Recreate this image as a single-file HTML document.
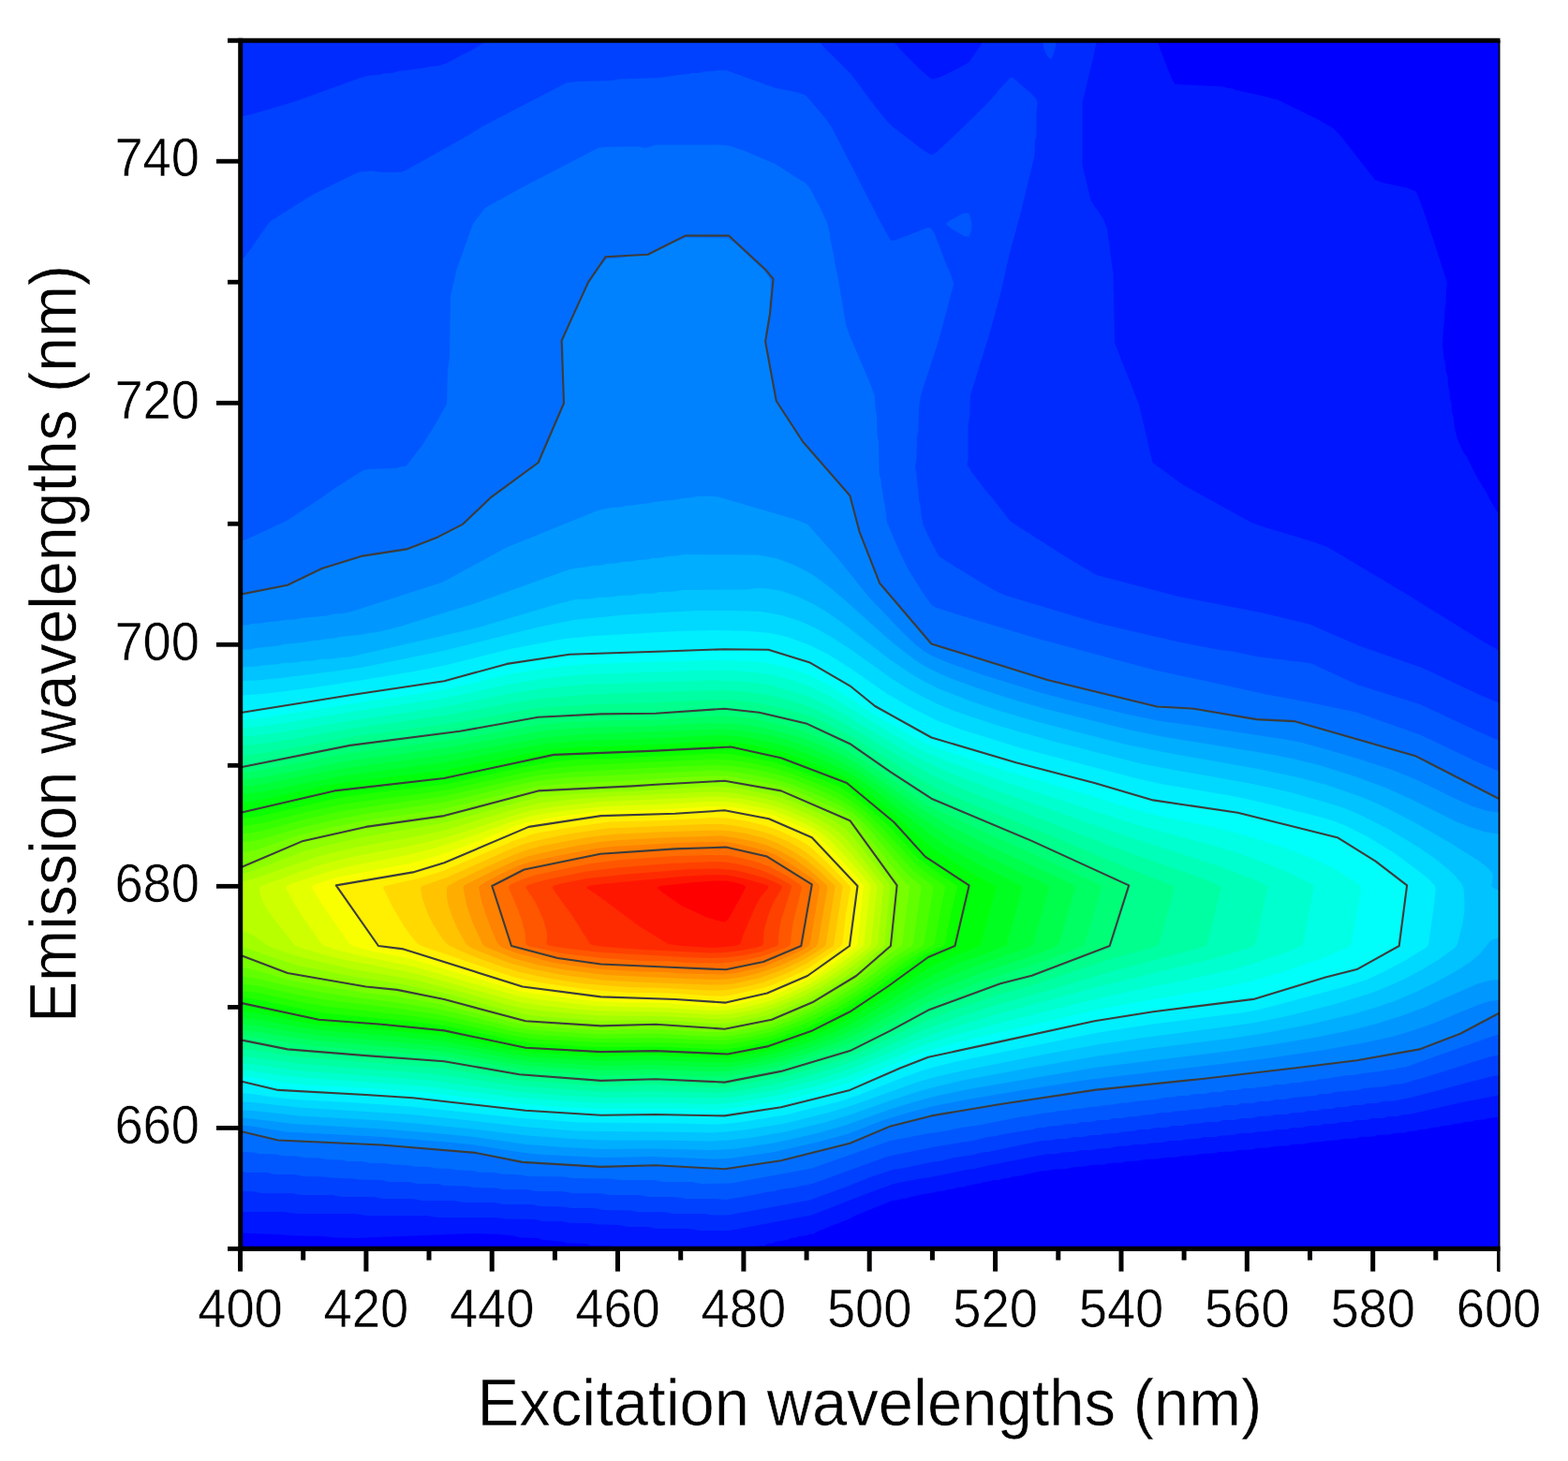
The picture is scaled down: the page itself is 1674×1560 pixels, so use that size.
<!DOCTYPE html>
<html><head><meta charset="utf-8"><title>Excitation-emission contour plot</title>
<style>
html,body{margin:0;padding:0;background:#fff;}
body{width:1674px;height:1560px;overflow:hidden;}
svg{display:block;}
text{font-family:"Liberation Sans",Arial,sans-serif;fill:#000;stroke:#fff;stroke-width:0.5px;}
</style></head><body>
<svg width="1674" height="1560" viewBox="0 0 1674 1560">
<defs><clipPath id="pc"><rect x="256" y="43" width="1345" height="1290"/></clipPath></defs>
<rect width="1674" height="1560" fill="#fff"/>
<rect x="256" y="43" width="1345" height="1290" fill="#0000ff"/>
<g clip-path="url(#pc)">
<path fill="#0016ff" d="M257,44l978.5,0 2.5,6 0.5,3 3,7 1,3.5 3,6.5 1,3.5 3,6.5 1,3 4,7 51.5,2.5 4,1.5 6,0.5 3,1.5 23,5 22,5.5 44,21.5 16,9.5 8,8.5 36,46 8,3 26,5.5 9,3.5 1.5,2 2.5,6 6.5,18 12,36 11.5,36 -1,8 -0.5,14 -1,6 -0.5,14 -1,6 -1,18 1.5,14 1.5,6 0.5,8 2,6 0.5,10 1.5,6 0.5,8.5 1.5,3.5 0.5,10.5 2,5.5 0.5,8 3,14 6.5,14.5 4,5.5 10,20 11,18 3,6.5 1.5,1.5 0.5,2 1.5,2 0.5,1.5 5.5,8.5 0.5,2 0,643 -10.5,1 -5.5,1.5 -8.5,0.5 -3.5,1.5 -8.5,0.5 -3.5,1.5 -8.5,0.5 -3.5,1.5 -8,0.5 -4,1.5 -8,0.5 -4,1.5 -8,0.5 -4,1.5 -8,0.5 -4,1.5 -12,0.5 -4,1.5 -14,0.5 -4,1.5 -14,0.5 -4,1.5 -14,0.5 -6,1.5 -12,0.5 -4,1 -14,1 -6,1.5 -12,0.5 -6,1.5 -14,0.5 -6,1.5 -12,0.5 -6,1.5 -14,0.5 -6,1.5 -14,0.5 -6,1.5 -14,0.5 -6,1.5 -13.5,0.5 -6,1.5 -14,0.5 -6,1.5 -15,0.5 -5,1.5 -14,0.5 -4,1.5 -15,0.5 -5,1.5 -14,0.5 -6,1.5 -14,1 -6,1.5 -14,0.5 -6,1.5 -8,0.5 -24,5.5 -6,0.5 -4,1.5 -6,0.5 -4,1.5 -6,0 -4,1.5 -6,0.5 -4,1.5 -5.5,0.5 -4.5,1.5 -4.5,0.5 -3.5,1.5 -7,0.5 -3,1.5 -7,0.5 -3,1.5 -7,0.5 -3,1 -17.5,3 -2.5,1 -7,1 -3,1.5 -7,0.5 -3,1.5 -6,0.5 -39.5,16 -6.5,3.5 -10,4 -12,4.5 -6,3 -4,1 -6,3.5 -5,0.5 -3,1.5 -8,0.5 -2,1.5 -6.5,0.5 -3.5,2 -12.5,2 -3.5,1.5 -5,0.5 -3,2 -6,0 -2,2 -152,0 -2,-0.5 -1.5,-1.5 -22.5,0 -2,-0.5 -1,-1.5 -23,-0.5 -2.5,-1.5 -25,-2.5 -2.5,-1.5 -19.5,-0.5 -6,-2 -16,-1.5 -28,-1 -126,5 -20,-0.5 -15.5,-1.5 -28.5,-0.5 -20.5,-1.5 -37.5,-1.5z"/>
<path fill="#002bff" d="M257,44l697,0 6.5,8 20,20.5 12,10.5 2,1.5 2,0 7.5,-2.5 17,-8 13.5,-7.5 14,-20.5 0.5,-2 121.5,0 -0.5,4 -4,18 -10.5,44 0,66 9,38 13.5,20 4,10 1,10 1.5,6 0.5,8 3.5,24 1.5,74 26,66 14.5,62 33,24 72.5,40 17.5,6 48.5,14.5 16,6 88,52.5 72.5,45 17,10 4.5,2 0,475.5 -44,8.5 -52,12 -6,0 -6,2 -10,0 -6,2 -10,0 -8,2 -10,0 -6,2 -10,0 -8,2 -10,0 -6,2 -10,0 -8,2 -10,0 -6,2 -12,0 -8,2 -12,0.5 -6,1.5 -12,0 -8,2 -12,0.5 -6,1.5 -12,0 -8,2 -12,0.5 -5.5,1.5 -12,0 -8,2 -12,0.5 -6,1.5 -12,0 -6,1.5 -12,0.5 -8,2 -12,0.5 -6,1.5 -12,0 -8,2 -12,0.5 -6,1.5 -12,0.5 -62,12 -14,3.5 -6,0.5 -44,9 -6,0.5 -30,6 -24,8.5 -64,25 -88,16.5 -32,0 -10,-2 -36,0 -8,-2 -22,0 -10,-2 -22,-0.5 -8,-1.5 -22,0 -8,-2 -21.5,0 -8,-2 -32,-0.5 -10,-1.5 -62,0 -12,-2 -64,0 -12,-2 -62,0 -14,-2 -46,0z"/>
<path fill="#0041ff" d="M517,46l2,-2 1,0 354.5,0 8.5,10 3.5,3 22,22 26,35 13,16 7,6.5 28,21.5 9,6 3,1 2,-0.5 4,-2.5 26,-24.5 26,-25.5 11,-12 1,-2 14,-15 2,-0.5 2,1.5 18,15.5 6,6.5 1,4 -1,10 0,24 -1.5,6 -0.5,16 -14.5,60 -12.5,46 -9,40 -12,44 -20.5,66 -1,24 -1.5,8 0,36 -1,6 6,9.5 14,18.5 7,8 17,22 4,4 56.5,36 33.5,20 88,23 87.5,17 52,12.5 54,23.5 66,23 62,29 20,8.5 0,398 -4,0 -16,4 -72,19 -20,4 -12,0.5 -6,2 -10,0 -6,2 -10,0 -6,2 -10,0 -6,2 -10,0 -6,2 -10,0 -6,2 -10,0 -6,2 -12,0 -6,1.5 -12,0.5 -8,2 -10,0 -8,2 -12,0 -6,2 -12,0 -6,1.5 -12,0.5 -7.5,2 -10,0 -8,2 -10,0 -8,2 -10,0 -8,2 -10,0.5 -6,1.5 -12,0.5 -6,1.5 -10,0 -8,2 -10,0 -8,2 -10,0 -6,1.5 -10,0.5 -58,12 -6,0.5 -14,3.5 -16,2 -16,4 -6,0.5 -36,7.5 -6,0.5 -24,8 -28,11 -38,14 -88,16 -16,0 -8,-1.5 -34,0 -10,-2 -28,0 -8,-1.5 -28,-0.5 -10,-2 -24,0 -8,-1.5 -25.5,-0.5 -10,-2 -30,0 -8,-2 -34,0 -10,-2 -34,0 -10,-2 -32,0 -10,-2 -34,0 -10,-2 -34,0 -10,-2 -32,0 -10,-2 -12,0 0,-1147.5 10,-2 46,-13.5 72,-26 10,-2.5 10,-0.5 4,-1.5 10,-0.5 6,-2 28,-3.5 6,-1.5 11,-1 3,-1.5 2.5,-0.5 8,-4 9.5,-5.5 2,-0.5 2,-1.5 2,-0.5 2,-1.5 2,-0.5 12,-7.5zM1113,44l14,0 0,6 -1.5,6 -3,7 -2,-0.5 -4,-5.5 -2,-5z"/>
<path fill="#0057ff" d="M761.5,76l5,-1 10,0.5 50,18 24,5 10,3.5 20,23.5 7.5,10.5 50.5,98.5 12,21.5 2,1 4.5,-1 33.5,-13 2,0 2,1.5 3.5,5.5 10.5,28 6,13.5 3.5,10.5 0,2 -16,60 -19,58 -2,14 -0.5,24 -1.5,6 -0.5,24 -1.5,8 1.5,8 1,12 1,6 0.5,10 1.5,6 1,10 2,10 7,15.5 10,18.5 18.5,12 40,24 11.5,5.5 100,30 86,20 41.5,8 18,2.5 26,5.5 10,1 6,1 12,1 6,1.5 10,0.5 12,2 50,23 66,20.5 62,29 22,9.5 0,336 -10,2 -66,21 -28,8 -10,0.5 -6,2 -24,2 -6,2 -24,2 -8,2 -8,0 -6,2 -24,2 -8,2 -10,0 -8,2 -10,0 -6,2 -12,0 -6,2 -12,0 -6,2 -12,0.5 -6,1.5 -12,0.5 -6,1.5 -11.5,0.5 -6,1.5 -10,0 -8,2 -10,0.5 -6,1.5 -10,0.5 -6,1.5 -10,0 -6,2 -10,0 -8,2 -10,0 -6,2 -10,0 -8,2 -10,0.5 -6,1.5 -6,0 -6,2 -28,4.5 -14,3 -6,0.5 -16,4 -38,6 -52,10.5 -80,29 -8,2 -6,0.5 -6,2 -16,2 -6,2 -6,0.5 -14,3 -32,5.5 -10,-1 -32,0 -10,-2 -30,0 -10,-2 -32,0 -10,-2 -30,0 -10,-2 -29.5,0 -8,-2 -26,0 -8,-1.5 -24,-0.5 -6,-1.5 -24,-0.5 -8,-2 -22,0 -8,-2 -22,0 -8,-2 -24,-0.5 -6,-1 -24,-1 -6,-1 -24,-0.5 -8,-2 -22,0 -8,-2 -22,0 -6,-1.5 0,-971 12,-15.5 18,-26 2,-2 44.5,-28 44.5,-22 7,-2.5 12,-1 10,1.5 14,0 8,-0.5 4,-1.5 66,-37 16,-10 89.5,-46.5 12,-1.5 38,-1 6,-1.5 44,-1.5 20,-3 10,-1 4,-1 8,0 4,-1.5zM1028,228l4.5,-0.5 2,0.5 2.5,8 0.5,4 -0.5,6 -2.5,6.5 -4,0 -6,-3 -9,-5.5 -5,-4 0,-2 2,-2z"/>
<path fill="#006dff" d="M696,156l4.5,-1.5 12,0 54,0 12,1 16,5.5 32,13.5 34,21.5 4,5 12,22.5 6.5,14.5 3,12 0.5,6 3.5,16 1,8 3.5,16 8.5,50 4,12 21.5,50.5 5,13.5 1,14 1.5,8 0.5,20 1.5,8 0.5,34 2,6 0.5,8 1,4 1,8 1.5,6 2.5,20 12,28 9.5,20 16,26 10,14 4,2.5 20,6.5 88,26.5 126,34 51.5,11 68,15 46,8.5 50,10.5 68,24 62,29.5 18.5,8 3.5,1 0,281.5 -8,2.5 -92,32.5 -6,0.5 -6,2 -8,0.5 -4,1 -24,3 -6,1.5 -8,0 -20,3.5 -10,1 -6,1.5 -8,0.5 -6,1.5 -8,0 -8,2 -10,0 -8,2 -10,0.5 -6,1.5 -10,0 -8,2 -10,0 -6,2 -10,0 -8,2 -10,0 -8,2 -9.5,0 -6,1.5 -10,0.5 -8,2 -24,2 -6,1.5 -10,0.5 -6,1.5 -10,0.5 -6,1.5 -10,0.5 -6,1.5 -10,0.5 -6,1.5 -10,0.5 -6,1.5 -10,1 -16,3 -6,0.5 -48,9.5 -18,2.5 -28,5.5 -6,0.5 -42,8 -84,29.5 -86,16 -32,0.5 -10,-2 -30,0 -10,-2 -36,0 -12,-1.5 -40,-0.5 -8,-1.5 -39.5,-0.5 -6,-1.5 -22,-1 -6,-1.5 -18,-0.5 -6,-1.5 -16,-0.5 -8,-1.5 -16,-0.5 -6,-1.5 -18,-0.5 -6,-1.5 -16,-0.5 -8,-1.5 -16,0 -8,-2 -16,0 -6,-1.5 -16,-0.5 -8,-1.5 -16,-0.5 -8,-1.5 -16,-0.5 -6,-1.5 -18,-0.5 -6,-1.5 -14,-0.5 0,-652.5 6,-1.5 43,-20 36.5,-24 12.5,-9 32,-20.5 6,-1.5 30,-1 4,-1.5 6,-0.5 2,-2 16,-21 12,-19 14,-24.5 1,-37.5 2,-12 1,-66 6.5,-28 17,-48 2.5,-4 11,-14 35,-19.5 85.5,-44.5 8,-1 26,-0.5 10,0 6,1.5z"/>
<path fill="#0082ff" d="M732,254l44.5,0.5 8.5,5.5 23.5,22.5 4.5,3.5 3.5,4 4.5,6 1.5,4.5 0,15.5 -1,4 -0.5,16 -3.5,18 -0.5,12 10,54 3,10 28,42 40.5,47.5 8,10.5 5.5,16 5,20 14,36 9,20 4.5,6.5 34,40 12,13.5 4.5,4 3.5,2 14,4.5 104,32.5 116,28 8,0.5 8,1.5 25.5,1 64,11.5 18,0.5 8,1.5 18,0.5 8,2.5 120,34.5 24,11.5 54,27.5 8.5,4 3.5,1 0,232.5 -12,5 -34,17 -26,10 -18,6 -40,6.5 -6,1.5 -6,0.5 -6,1.5 -8,1 -6,1 -10,1 -6,1.5 -10,0.5 -6,1.5 -10,0.5 -6,1.5 -10,0.5 -6,1.5 -10,0.5 -8,1.5 -10,0.5 -6,1.5 -12,0.5 -6,1.5 -10,0.5 -6,1 -10,1 -8,1.5 -10,0.5 -8,1.5 -11.5,0.5 -8,1.5 -12,0.5 -6,1.5 -12,0.5 -8,1.5 -12,0.5 -6,1.5 -14,0.5 -6,1.5 -10,0.5 -6,1.5 -8,0.5 -4,1.5 -22,2.5 -6,1.5 -8,0.5 -4,1.5 -22,2.5 -6,1.5 -8,0.5 -72,12.5 -48,12 -46,18.5 -30,8 -42,10.5 -8,0.5 -6,1.5 -22,2.5 -4,1.5 -8,0.5 -6,1.5 -22,0 -8,-1.5 -30,-0.5 -8,-1.5 -6,0 -26,0 -12,1.5 -36,0 -10,-1.5 -22,-0.5 -9.5,-1.5 -26,-0.5 -58,-11 -16,-0.5 -8,-1.5 -16,-1 -6,-1 -18,-1 -6,-1 -18,-1 -8,-1.5 -30,0 -10,-2 -34,-0.5 -10,-1.5 -28,-0.5 -40,-9 0,-575.5 6,-0.5 40,-8 17.5,-7 24.5,-11.5 40,-12.5 22,-4 8,-0.5 6,-1.5 8,-1 8,-2.5 31.5,-12.5 20,-10 6.5,-4 28,-26.5 40,-29.5 12,-10 19.5,-44 7.5,-20 -1,-10 0.5,-44 -0.5,-10 13.5,-32 14,-29 12,-18 6,-7 2,-1.5 16,-1 6,-2 20,-1 31,-14.5z"/>
<path fill="#0098ff" d="M744,530l16.5,0 6,0.5 82,24 14,5.5 5,6 25,28 35.5,44 34.5,36 14.5,14 9.5,7.5 10,5.5 14,6 40,14 58,18 30,8 64,15.5 36,7.5 37.5,5 96,14.5 16,3 22,6 38,11 38,12.5 26,10.5 42,20.5 18,8 16,5 12,1.5 0,200.5 -10,1 -12,4 -46,19 -24,8.5 -22,6.5 -30,6.5 -42,7.5 -64,9.5 -189.5,22.5 -66,10.5 -62,10.5 -38,7.5 -30,8 -20,6 -40,15.5 -34,9 -44,10 -48,7 -18,0.5 -64,-2.5 -56,1 -67.5,-3.5 -16,-2 -50,-8 -24,-2.5 -74,-6 -104,-5.5 -36,-6 -12,-1 0,-534 6,0 6,-1.5 10,-0.5 8,-1.5 10,-0.5 6,-1.5 12,-0.5 6,-1.5 28,-2.5 8,-2 10,-0.5 10,-2.5 96,-31 68,-37 97.5,-39.5 14,-3 10,-0.5 6,-1.5 8,-0.5 8,-1.5 8,-0.5 6,-1.5 24,-2.5 6,-1.5 8,-0.5z"/>
<path fill="#00aeff" d="M731,592l77.5,0.5 20,3.5 20,7.5 18,9.5 18,13 16,13.5 52,46.5 24,18.5 12,7.5 14,7 18,7.5 24,8.5 34,11 36,10.5 90,22.5 36,7.5 119.5,19.5 24,5 26,6.5 38,12 33.5,12.5 26.5,12 46,23 16,6.5 16,5 14,2 0,155.5 -10,1 -14,4 -54,24 -28,10.5 -26,8 -28,7 -40,8 -46,7.5 -40,6 -145.5,18 -68,11.5 -66,11.5 -34,7 -26,7 -26,8 -46,16.5 -30,8.5 -44,10 -42,6.5 -16,1 -14,0.5 -58,-1.5 -56,0.5 -40,-2 -39.5,-3 -56,-8 -48,-4.5 -50,-4 -96,-5.5 -44,-5.5 -12,-1 0,-500 10,0 6,-1.5 24,-2.5 6,-1.5 24,-2.5 6,-1.5 8,-0.5 6,-1 10,-1 6,-1.5 24,-2.5 6,-1.5 10,-1 22,-5.5 80,-24.5 101.5,-36.5 10,-2 10,-1 6,-1.5 10,-0.5 6,-1.5 10,-0.5 6,-1.5 10,-0.5 6,-1.5 10,-0.5 6,-1.5 10,-0.5 6,-1.5 10,-0.5z"/>
<path fill="#00c3ff" d="M807.5,628l13,0.5 14,2.5 16,5.5 16,7.5 14,8 16,11 54,41.5 23,15.5 13,7.5 16,8 36,14 32,10.5 38,11 94,24 42,8.5 101.5,18 46,10 24,6.5 22,7.5 22,8 20,9 32,16.5 39.5,23 28.5,18 7.5,6 4,4 1.5,2 1,4 -1.5,10 3.5,3 4,1.5 0,51 -6,1.5 -4,3 -9.5,12 -10.5,9 -14,9 -21.5,12 -22.5,11 -22,9.5 -22,7.5 -24,7 -46.5,11 -49.5,9.5 -32,5 -95.5,12 -48,7 -66,11.5 -76,14 -28,6.5 -24,6.5 -26,8.5 -44,15.5 -28,8.5 -42,10 -38,6.5 -22,2.5 -20,1 -58,-1 -56,0 -34,-1.5 -47.5,-3.5 -64,-7.5 -56,-5.5 -36,-3 -88,-5 -48,-5.5 -14,-0.5 0,-472.5 4,-1 14,-0.5 8,-1.5 12,-0.5 6,-1.5 14,-0.5 8,-1.5 12,-0.5 6,-1.5 14,-0.5 8,-1.5 10,-0.5 134,-30.5 89.5,-26.5 18,-4.5 16,-0.5 8,-1.5 14,-0.5 8,-1.5 16,-0.5 6,-1.5 16,-0.5 6,-1.5 16,-0.5 8,-1.5 68,-0.5z"/>
<path fill="#00d9ff" d="M743,652l41.5,0 28,1 20,3.5 20,6 18,8 20,11.5 20,13 42,30 14.5,9 15.5,8.5 18,9 18,7.5 46,15.5 60,17 94,24 34,6.5 79.5,14 44,9.5 42,12 16,5 16,6.5 32,16 34.5,21 14.5,10 12.5,10 9,8 7.5,9 2.5,5 1,14 0,10 -2,14 -5.5,22 -1,2 -3,3 -16,11.5 -18,11 -20,10.5 -18,8 -18,7 -38,11.5 -48,12 -34,7 -30,4.5 -91.5,12 -44,6.5 -60,11 -90,18 -26,6 -20,5.5 -68,24.5 -28,8.5 -46,11.5 -44,7 -20,2 -16,1 -52,-1 -64,-0.5 -28,-0.5 -55.5,-4.5 -66,-7.5 -54,-5.5 -120,-7.5 -50,-5.5 -12,-0.5 0,-449.5 18,-0.5 20,-2 64,-8 28,-4 84,-17 104,-26 37.5,-7.5 54,-5.5z"/>
<path fill="#00efff" d="M722.5,674l40,-1 38,1 22,2 18,4 24,9 20,10 24,15 38,26.5 28,16 26,13 24,9 68,21 124,32.5 28,6 71.5,12 28,6 60,15 18,5 14,5.5 25,12.5 27,16.5 26.5,19.5 12,10 5.5,6 0.5,4 -2,20 -5.5,38 -1,2 -2,2 -22,13.5 -23.5,12.5 -18.5,8.5 -24,7.5 -78,21 -14,3.5 -14,2.5 -97.5,12.5 -58,9 -150,30.5 -22,5.5 -16,4.5 -22,8 -48,19 -20,6.5 -56,14 -50,8 -16,1.5 -12,0.5 -32,-1 -110,-1 -61.5,-4.5 -118,-12.5 -58,-4 -64,-3.5 -22,-2 -26,-4 -12,-1 0,-424.5 24,-1.5 48,-6 56,-8.5 54,-9 36,-7 70,-17.5 57.5,-11 32,-3z"/>
<path fill="#00fffa" d="M725.5,694l93,0 18,4.5 26,8 4,2 28,15.5 9,6 31.5,24 58,32 13.5,5 76,22.5 82,21 64,19 10,2 33.5,4.5 6,2 8,0.5 6,1.5 8,0.5 4,1 10,1 10,2 80,20 24,7 8.5,4.5 37.5,24 22,16.5 6,5.5 -0.5,4 -1.5,6 -0.5,10 -1.5,6 -0.5,10 -1.5,4 -0.5,12 -2,10 -1,2 -2.5,2 -42,22.5 -44,12 -68,20.5 -12,1 -6,1.5 -10,0.5 -6,1.5 -10,0.5 -6,1.5 -10,0.5 -6,1.5 -9.5,0.5 -6,1.5 -10,0.5 -6,1.5 -8,0.5 -6,1.5 -8,0.5 -6,2 -6,0 -6,2 -8,0.5 -16,3.5 -6,0.5 -148,32 -28,6 -12,4.5 -20,8 -52,22.5 -8,2.5 -64,16 -10,2 -8,0.5 -6,1.5 -8,0.5 -4,1.5 -8,0.5 -6,1.5 -8,0.5 -6,1.5 -16,0 -8,-1.5 -6,0 -120,-0.5 -6,0 -6,-1.5 -23.5,-0.5 -8,-1.5 -20,-0.5 -8,-1.5 -10,-0.5 -8,-1.5 -10,-0.5 -8,-1.5 -10,-0.5 -8,-1.5 -10,-0.5 -8,-1.5 -10,-0.5 -6,-1.5 -12,-0.5 -8,-1.5 -18,-0.5 -8,-1.5 -22,-0.5 -8,-1.5 -28,-0.5 -8,-1.5 -30,-0.5 -8,-1.5 -16,-0.5 -40,-8.5 0,-396 8,0 14,-2 18,-3.5 8,-1 16,-3 20,-2.5 6,-1.5 32,-4.5 6,-1.5 8,-0.5 6,-1.5 8,-0.5 4,-1.5 22,-2.5 6,-1.5 8,-0.5 6,-1.5 20,-2.5 70,-19 8,-1 6,-1.5 22,-2.5 4,-1.5 8,-0.5 17.5,-3.5 48,-0.5 12,-1.5 48,-0.5z"/>
<path fill="#00ffe4" d="M723.5,706l37,-1 42,1 20,2.5 22,5.5 18,6.5 22,11 16,9.5 28,19 18,10.5 40,22.5 20,8 70,23 82,24 52,16 26,7 59.5,12.5 28,7 42,13 34,12.5 26,12.5 20,12.5 6.5,5 0.5,4 -10.5,58 -1,2 -3,2 -24,10 -44.5,15.5 -34,10 -34,7.5 -79.5,13.5 -44,8 -152,35.5 -40,11 -24,9.5 -52,22 -12,4 -30,8.5 -32,8 -54,8.5 -18,1.5 -28,-1 -98,0 -45.5,-2.5 -32,-2.5 -116,-13.5 -58,-4 -60,-3 -24,-2.5 -36,-6 -10,-1 0,-380.5 12,-0.5 14,-2 102,-16 80,-12 18,-3.5 62,-15 46,-7 31.5,-3z"/>
<path fill="#00ffce" d="M747,716l33.5,0 26,2 22,3.5 22,6.5 16,6 18,8.5 16,9.5 40,24.5 30,17.5 20,10.5 22,9 56,20 138,45 28,8 57.5,15.5 28,8.5 28,10 26,10.5 25.5,13 2.5,2 0.5,2 -11.5,60 -1.5,2 -4,2 -17.5,6.5 -28,9.5 -24,7 -34,8 -71.5,14.5 -38,8.5 -108,27 -52,14 -34,11.5 -70,29.5 -36,11 -42,10.5 -48,8 -20,1.5 -58,-1.5 -60,0.5 -50,-3 -45.5,-3.5 -98,-12 -128,-9 -24,-2.5 -30,-4.5 -12,-1 0,-365.5 14,-0.5 20,-2.5 88,-14.5 86,-12.5 22,-4 58,-12.5 40,-6.5 43.5,-4z"/>
<path fill="#00ffb8" d="M713.5,728l47,-1.5 34,1.5 16,1.5 14,2.5 28,8 18,7 18,8.5 86,51 20,10 20,9 42,16 142,50 103.5,33.5 22,8.5 20,8 8.5,4.5 0.5,2 -12.5,60 -2,2 -4.5,2 -38,11.5 -119.5,29 -112,30.5 -44,13 -38,13 -72,31.5 -34,11 -46,12 -50,8 -18,1 -62,-1 -54,0.5 -48,-2.5 -47.5,-4 -92,-12 -136,-10 -20,-2.5 -32,-4.5 -14,-1 0,-349 16,-1 18,-2 84,-14 92,-13.5 24,-4.5 54,-11 32,-5 23.5,-2.5 26,-2z"/>
<path fill="#00ffa3" d="M732,738l38.5,-1 30,2 16,2.5 14,3 30,8.5 18,8 24,12 72,43.5 20,11 18,8.5 28,11.5 158,60.5 75.5,26.5 25,9.5 3.5,2 1,2 -14.5,60 -2,2 -11,3.5 -93.5,25 -70,21 -50,14 -42,13.5 -34,12.5 -72,32.5 -26,9 -28,8.5 -26,6.5 -32,6.5 -24,3.5 -16,1 -66,-2 -52,1 -38,-2.5 -53.5,-4 -88,-12.5 -144,-11 -50,-7 -14,-1 0,-332 16,-1 20,-2.5 82,-14.5 106,-15 66,-12.5 28,-4.5 23.5,-2 34,-2.5z"/>
<path fill="#00ff8d" d="M744,748l30.5,-0.5 18,1 16,2 30,6.5 28,8 14,6.5 30,15.5 62,39.5 32,18 22,9.5 85,34 93,39 48.5,19 1,2 -0.5,2 -16,58 -2.5,2 -5.5,2 -47,13 -72,24.5 -44,12.5 -54,18.5 -26,10.5 -72,34.5 -18,6.5 -30,9.5 -30,8 -60,11.5 -12,0.5 -64,-3 -18,0 -18,1.5 -26,-0.5 -57.5,-4 -28,-2 -86,-13.5 -150,-11.5 -48,-7.5 -12,-1 0,-313.5 12,-1 16,-2 96,-17.5 106,-14.5 58,-10.5 26,-4.5 23.5,-2 40,-2.5 62,-1.5z"/>
<path fill="#00ff77" d="M743,758l23.5,-0.5 6,-1 6,1 12,0.5 8,1.5 10,0.5 36,8 18,5 46,22 86,57.5 100,42 107.5,49.5 2.5,2 0,4 -18.5,58 -3.5,3 -6,2.5 -56,21 -16,6.5 -38,10 -70,25.5 -16,7.5 -20,11.5 -52,26 -72,22 -64,12.5 -8,0 -10,-2 -34,0 -6,-1.5 -6,-0.5 -30,0.5 -12,1.5 -32,0 -8,-1.5 -20,-0.5 -6,-1.5 -17.5,-0.5 -8,-1.5 -18,-0.5 -88,-15.5 -22,-0.5 -6,-1.5 -20,-0.5 -8,-1.5 -20,-0.5 -8,-1.5 -18,-0.5 -6,-1.5 -18,-0.5 -8,-1.5 -16,-0.5 -8,-2 -8,0 -46,-9.5 0,-292 28,-5 86,-17.5 8,-0.5 6,-1.5 8,-0.5 6,-1.5 10,-0.5 6,-1.5 8,-0.5 8,-1.5 10,-0.5 6,-1.5 8,-0.5 6,-1 10,-1 6,-1.5 10,-0.5 84,-15.5 16,-0.5 7.5,-1.5 32,-0.5 8,-1.5 70,-0.5 10,-1.5 22,-0.5z"/>
<path fill="#00ff62" d="M739.5,766l33,-1.5 14,1 18,2 36,8 22,7 26,11 18,9.5 23.5,15 58.5,40 10,5.5 36,17.5 78,35 60,28 3,2 0.5,2 -18,60 -1.5,2 -4.5,2 -45.5,17 -52,16.5 -56,21.5 -18,8.5 -29,16.5 -25,13 -26,12 -66,21 -30,6.5 -32,5 -44,-0.5 -28,-2 -60,1.5 -79.5,-6 -90,-15 -100,-7.5 -48,-4.5 -66,-10.5 0,-279.5 22,-3 92,-18 118,-15.5 86,-15 23.5,-2.5 40,-2 64,-1z"/>
<path fill="#00ff4c" d="M752.5,772l30,0.5 30,4 36,9 14,4.5 18,7.5 20,9.5 16,9.5 70,49 26,15.5 44,22.5 88,40.5 3,2 0.5,2 -0.5,2 -17,58 -2,2 -4,2 -28,10.5 -50,16.5 -44,17.5 -24,12 -56,31.5 -14,7 -14,6 -34,12 -28,8.5 -28,6 -28,4.5 -12,0.5 -68,-2.5 -56,1 -75.5,-5 -20,-2.5 -74,-13 -128,-11 -30,-3.5 -42,-7 -14,-1.5 0,-267 12,-1 14,-2 86,-16.5 110,-15 100,-17.5 21.5,-2 36,-2 64,-1.5z"/>
<path fill="#00ff36" d="M728.5,780l42,-1.5 14,1 16,2 20,3.5 20,5 16,5.5 20,8 24,11 18,10.5 21,15 49,36.5 28,18.5 40,21 60,28 3,2 0.5,2 -17,60 -2,2 -4,2 -58.5,20.5 -36,15 -24,12.5 -58,34 -15.5,8 -14.5,6.5 -31.5,11.5 -30.5,9.5 -24,5.5 -26,4 -14,0.5 -70,-2.5 -54,1 -73.5,-4.5 -20,-3 -56,-10.5 -20,-3 -130,-11.5 -24,-3 -44,-7.5 -16,-1.5 0,-253.5 12,-1 14,-2 64,-13 24,-4 108,-14.5 102,-18 41.5,-3.5z"/>
<path fill="#00ff21" d="M742.5,786l20,-1 18,0.5 14,1.5 20,4 20,4.5 14,4.5 20,7.5 24,10.5 14,7 14.5,9 23.5,18 46,37 18,13 36,21 46.5,23 0.5,2 -0.5,2 -16,58 -1.5,2 -4.5,2 -42.5,15.5 -28,12.5 -20,11 -60,37 -16,8.5 -16,7.5 -30,11.5 -32,10 -24,5.5 -22,3.5 -12,0 -70,-2.5 -54,1 -75.5,-4.5 -20,-2.5 -54,-10.5 -22,-4 -56,-5.5 -72,-6 -22,-3 -46,-8.5 -18,-1.5 0,-239 12,-1 14,-2 82,-16.5 110,-14.5 88,-16.5 22,-3.5 35.5,-3 78,-2.5z"/>
<path fill="#00ff0b" d="M752,792l18.5,-0.5 16,1 18,3 30,7 20,7 42,17 10,5 8,5 41.5,33.5 28.5,26.5 14,11 14,9.5 22,13.5 28,15.5 0.5,2 0,2 -15.5,58 -2,2 -4,2 -29,11.5 -18,8.5 -14,8.5 -29,19.5 -35,22 -14,8 -18,9 -28,11 -34,11.5 -22,4.5 -24,4 -50,-1.5 -24,-1.5 -42,0.5 -18,1 -75.5,-4.5 -24,-3.5 -42,-9 -30,-5.5 -58,-6 -68,-5 -22,-3.5 -50,-10 -16,-1.5 0,-223.5 10,-0.5 16,-3 74,-16 116,-14.5 114,-22.5 33.5,-2.5 80,-2.5z"/>
<path fill="#0bff00" d="M721.5,800l23,0 10,-2 18,0 10,0 12,2.5 38,8 62,24 6,2 5.5,3.5 25,20 23.5,20 33.5,36 44.5,29.5 2.5,2.5 0,2 -4,14 -10.5,46 -1,2 -3,2 -27.5,12 -28.5,20 -7.5,6 -38.5,26 -12,7 -24,12 -14,6.5 -46,16 -42,8 -8,0 -8,-1.5 -36,0 -10,-2 -62,0 -10,1.5 -8,-1.5 -28,0 -8,-1.5 -29.5,-0.5 -24,-4.5 -70,-15 -12,-0.5 -6,-2 -12,0 -8,-2 -14,-0.5 -6,-1.5 -16,-0.5 -6,-1.5 -20,-0.5 -8,-1.5 -20,-0.5 -4,-1 -8,-1 -62,-13.5 -16,-2.5 0,-204 100,-23 10,-1 6,-1.5 10,-0.5 6,-1.5 12,-0.5 6,-1.5 12,-0.5 6,-1.5 10,-0.5 8,-1.5 10,-0.5 8,-1.5 12,-0.5 116,-25 21.5,-1 8,-1.5 42,-0.5 10,-1.5 36,0 8,-2z"/>
<path fill="#21ff00" d="M732.5,806l30,-1.5 16,0.5 22,3.5 26,5.5 20,6.5 36,14 16,7 8,5 20,15.5 24,21.5 27.5,30.5 6.5,6 37,26 0.5,2 -6.5,26 -6.5,34 -1.5,2 -17,7.5 -8,4.5 -14,9.5 -31,22.5 -25,16.5 -16,9.5 -26,13 -8,4 -28,10 -16,5 -22,5 -22,3.5 -44,-1.5 -20,-1.5 -68,0.5 -26,-1 -18,-1.5 -27.5,-1 -24,-4 -70,-15 -38,-5 -90,-8.5 -16,-2.5 -58,-12 -18,-3 0,-190 20,-3 82,-19 32,-5 84,-10 86,-19 28,-5 33.5,-3 36,-0.5 16,-1.5 30,-1z"/>
<path fill="#36ff00" d="M732,812l30.5,-1.5 16,1 20,2.5 28,6 20,6.5 38,15 14,7 14,9 12,9.5 15.5,15 38.5,41.5 10,8 20.5,14.5 0,2 -6,30 -5.5,30 -1.5,2 -15.5,8 -13,8 -35.5,26 -19.5,13 -18.5,11 -23.5,12 -18.5,8 -29.5,10.5 -26,5.5 -22,3.5 -36,-1 -36,-1.5 -64,0 -67.5,-3.5 -26,-4 -70,-15.5 -38,-5.5 -90,-10 -26,-4.5 -46,-10 -18,-2 0,-176 10,-1 12,-2 54,-13.5 34,-7 110,-15 82,-18.5 26,-4.5 37.5,-3.5z"/>
<path fill="#4cff00" d="M732,818l28.5,-1 18,0.5 22,3 26,5.5 20,6 34,14 18,9 14,9 9.5,8 12,12 37.5,42 9,8 15.5,12 0.5,2 -10,58 -1.5,4 -24,14 -32,24 -16.5,11.5 -21,12.5 -21,11 -22,9.5 -24,9 -26,6 -24,3.5 -22,-0.5 -52,-2.5 -62,1 -69.5,-4.5 -24,-4 -56,-13 -22,-4.5 -40,-6 -80,-9.5 -32,-6 -40,-9 -18,-2 0,-160.5 10,-0.5 12,-2 48,-13 36,-8 28,-4.5 84,-12 82,-18.5 20,-4 37.5,-3.5z"/>
<path fill="#62ff00" d="M731.5,824l29,-1.5 18,1 24,3.5 26,5.5 18,5.5 30,12.5 20,9.5 14,8.5 8,7 10,10.5 36,43 7,7 12,10 0,2 -8.5,58 -1.5,4 -19,12 -26,20.5 -14,10 -25,15.5 -21,11 -22,10 -22,8 -24,5.5 -18,3 -10,1 -20,0 -52,-3 -62,1 -67.5,-4.5 -24,-3.5 -60,-15 -22,-4.5 -40,-6.5 -46,-5.5 -36,-5.5 -34,-6.5 -36,-8.5 -16,-2 0,-143 10,-1 10,-2 46,-13 40.5,-9.5 27.5,-5 84,-12.5 82,-19.5 16,-3 35.5,-4z"/>
<path fill="#77ff00" d="M731,830l25.5,-1.5 20,0 50,9 14,3.5 18,7.5 36,16 14,8 8,7.5 42,53 12,13 0.5,2 -7.5,58 -1.5,4 -11.5,8 -24,20 -12,9.5 -30,18 -18,10 -22,9.5 -22,8.5 -32,6.5 -10,1.5 -8,0.5 -20,0 -48,-3 -36,0 -18,1 -12,0 -42,-3 -21.5,-1 -16,-2 -18,-4 -70,-17.5 -50,-9 -32,-3.5 -50,-8 -32,-6 -34,-10 -8,-2 -8,-0.5 0,-123.5 8,-0.5 8,-2 46,-15.5 34,-8.5 38,-7.5 82,-12 100,-24.5 33.5,-3 66,-3z"/>
<path fill="#8dff00" d="M722,836l22.5,0 10,-2 22,0 18,3.5 6,0.5 16,3.5 8,1 10,2.5 18,7 24,10.5 26,12 4,2.5 3,3 12.5,16 36,50 -1.5,16 -1.5,8 -0.5,12 -1.5,6 -0.5,14 -2,8 -4,4 -32,27.5 -50,30 -36,15 -8,3 -42,8 -6,0.5 -20,-0.5 -8,-1.5 -22,-0.5 -6,-1 -4,-0.5 -52,0 -10,1.5 -10,0 -10,-1.5 -24,-0.5 -6,-1.5 -23.5,-0.5 -6,-1 -12,-1 -86,-23 -36,-6.5 -14,-3.5 -14,-1 -8,-1.5 -10,-0.5 -6,-1.5 -18,-2.5 -6,-1.5 -52,-9 -46,-16.5 -6,-1.5 0,-96 16,-6 44,-18 14,-4.5 62,-14 8,-0.5 6,-1.5 8,-0.5 6,-1.5 8,-0.5 6,-1.5 10,-1 4,-1 24,-3 102,-27 23.5,-1 10,-1.5 30,-0.5 8,-1.5 30,-0.5 8,-1.5 24,-0.5 6,-1z"/>
<path fill="#a3ff00" d="M755,840l15.5,0 16,1.5 34,6.5 12,3 16,6 28,12.5 18,9.5 8,6 14,15.5 34,45.5 -6.5,62 -0.5,2 -35,29 -32,20 -14,7.5 -28,12 -16,6 -40,8 -14,0.5 -54,-3.5 -48,0 -20,0.5 -61.5,-4.5 -18,-2 -26,-6 -56,-15.5 -38,-8.5 -18,-3.5 -46,-7 -58,-11.5 -14,-4 -38,-13 -12,-3.5 0,-78 6,-1 8,-2.5 52,-20 24,-6.5 42,-9.5 86,-15 78,-21.5 24,-6 35.5,-3 26,-1.5 14,-1 24,-0.5z"/>
<path fill="#b8ff00" d="M746.5,846l18,-0.5 16,1 26,4 22,5 18,6.5 24,11 16,9 11,8 7,7 10,11.5 29,37.5 -6.5,62 -1,2 -21.5,18 -13.5,10 -26.5,17 -20,10 -24,10 -18,6 -30,6 -10,1 -12,0 -54,-3 -66,-0.5 -55.5,-4.5 -24,-3 -20,-4.5 -58,-16 -36,-9 -20,-4 -52,-9 -50,-11.5 -20,-6 -19,-7 -15,-11 -8,-3.5 -6,-1 0,-52.5 18,-5 60,-21 20,-5.5 26,-6 66,-12 26,-5.5 80,-24 24,-5.5 35.5,-4 38,-3z"/>
<path fill="#ceff00" d="M731.5,852l27,-1.5 16,0.5 18,2 26,5.5 16,4.5 26,11 14,7.5 12.5,8.5 9.5,8.5 12,13 17.5,20.5 10.5,14 -6.5,60 -1,4 -10.5,9 -17,13 -21,14 -16,9 -16,8 -20,8 -12,4 -18,4.5 -18,3 -18,1 -54,-3 -64,-1 -26,-1.5 -41.5,-4.5 -24,-4 -102,-28 -22,-5 -58,-11 -28,-7 -22,-6.5 -5,-2 -2.5,-2 -23.5,-30 -8,-12 -4,-10 -1,-8 1.5,-2 58.5,-21 36,-9.5 66,-12.5 28,-6.5 26,-7.5 56,-18.5 18,-5 26,-4.5 49.5,-5z"/>
<path fill="#e4ff00" d="M755,856l15.5,0 14,1 26,5 14,3 22,8.5 20,9.5 10,6.5 10.5,8.5 27.5,29.5 15,18.5 -7,60 -1,4 -11,9 -17.5,13 -18.5,12.5 -14,8 -22,10 -14,5.5 -12,3.5 -22,5 -14,2 -18,0.5 -48,-3 -48,-1 -28,-1 -18,-2 -43.5,-5 -20,-3.5 -110,-31 -60,-12.5 -24,-6 -13,-4 -4,-4 -19.5,-28 -10,-16 -7.5,-14 1,-2 4,-2 41,-13.5 24,-6 62,-12 26,-6.5 30,-9.5 57.5,-20.5 20.5,-5.5 31.5,-5 44,-4.5 54,-2z"/>
<path fill="#faff00" d="M744,862l14.5,-1 22,0.5 36,6.5 10,3 28,11.5 12,6 7.5,5.5 12.5,12 28,30 7.5,10 -6.5,60 -1.5,4 -15.5,12.5 -24,17 -18,10 -34,14.5 -38,9 -10,1.5 -18,0 -46,-3.5 -46,-0.5 -34,-2 -59.5,-7.5 -14,-2 -120,-35.5 -38,-7.5 -22.5,-6 -4.5,-4 -11.5,-16 -16.5,-24 -11,-18 0.5,-2 4,-2 23.5,-7.5 76,-14.5 28,-7.5 34,-12 51.5,-20.5 16.5,-5 35.5,-6 44,-5.5 56,-1z"/>
<path fill="#ffef00" d="M742,868l12.5,-1.5 24,0 34,6 14,4.5 36,15.5 5,3.5 45,47 2,3 -0.5,12 -1.5,6 -2.5,24 -1.5,6 -0.5,10 -2,6 -35,26 -12.5,7 -38,16.5 -40,10 -24,0 -10,-1.5 -22,-0.5 -8,-1.5 -52,-0.5 -8,-1.5 -22,-0.5 -6,-1 -26,-3 -6,-1.5 -9.5,-0.5 -6,-1.5 -8,-0.5 -14,-2 -124,-38.5 -10,-2.5 -10,-0.5 -11.5,-4 -6.5,-8 -36,-52 0.5,-2 3.5,-1.5 22,-4.5 6,0 6,-2 6,0 16,-3.5 18,-3 28,-8 12,-4 68,-29 20,-8 81.5,-12 60,-0.5 10,-1.5z"/>
<path fill="#ffd900" d="M746,874l14.5,-1 16,0.5 22,3.5 16,4 14,4.5 22,10 10,5.5 8,6.5 18,17 21,21.5 0.5,2 -5,28 -3.5,30 -1.5,4 -33.5,23 -8,4.5 -12,5.5 -18,8 -12,4 -34,7.5 -8,1 -12,0 -46,-3 -44,-0.5 -32,-2.5 -18,-2 -45.5,-6.5 -18,-3.5 -22,-6.5 -85,-29 -3.5,-2 -4,-4 -10.5,-14 -12,-20 -11,-22 1.5,-2 2.5,-0.5 36,-8 24,-7.5 76,-32.5 22,-7.5 37.5,-6.5 42,-6 58,-1.5z"/>
<path fill="#ffc300" d="M753,880l17.5,0 16,2 22,4.5 16,5 16,6.5 14,8 12,8.5 16,14.5 15.5,15 1.5,2 0,2 -9,58 -1,4 -27,18 -22,11 -26,10 -14,3.5 -18,3.5 -12,1.5 -14,0 -46,-2.5 -40,-1 -46,-3.5 -39.5,-6 -30,-6.5 -18,-5.5 -24,-8.5 -20,-8 -12.5,-6 -3,-2 -5.5,-6 -9,-14 -7,-14 -5.5,-16 -1.5,-10 1.5,-2 26.5,-9 64,-28.5 16,-6.5 14,-4 35.5,-7.5 42,-6z"/>
<path fill="#ffae00" d="M714,888l52.5,-1.5 14,1 16,2.5 18,4.5 16,6 16,8.5 14,9 16,13.5 15,14.5 0,2 -9.5,58 -1,4 -8.5,6 -14,8.5 -26,12 -22,8 -28,6 -12,1 -14,0 -78,-3 -36,-2 -42,-5.5 -31.5,-6 -26,-7 -32,-12.5 -8,-3.5 -5.5,-4 -10,-18 -5,-12 -3.5,-10 -2,-10 0,-8 0,-2 1.5,-2 10.5,-6 29.5,-14 30.5,-13.5 14,-5 16,-4.5 51.5,-9.5 28,-3z"/>
<path fill="#ff9800" d="M717.5,894l53,-1.5 14,2 18,3.5 16,4.5 13,5.5 17,9.5 16,11.5 17,15 1.5,2 0.5,2 -10,58 -1.5,4 -7.5,5.5 -12,6.5 -16,7.5 -16,6 -14,4.5 -18,4 -12,1.5 -10,0.5 -36,-1 -84,-4 -44,-5.5 -27.5,-5 -26,-7 -28.5,-11.5 -3.5,-2 -2,-2 -11,-24 -6,-18 -3.5,-18 0.5,-2 3,-2 32,-16 19,-8.5 14,-5 16,-4 39.5,-8 22,-3.5 20,-2z"/>
<path fill="#ff8200" d="M720.5,900l52,-1.5 12,2 20,4.5 14,4 10,4 18,11 20,13.5 7,6.5 1.5,2 0,2 -10,58 -1.5,4 -7,4.5 -16,7.5 -24,10 -30,7 -16,1.5 -44,-1 -16,-1.5 -28,-0.5 -40,-2.5 -32,-4 -21.5,-3.5 -38,-10 -14.5,-5.5 -3,-2 -3,-4 -6,-14 -6,-16 -4.5,-14 -2.5,-12 -0.5,-2 1,-2 9.5,-6 23.5,-12 12,-5 12,-3.5 27.5,-6 36,-7 20,-2.5z"/>
<path fill="#ff6d00" d="M755,906l11.5,-1.5 8,0 44,10.5 24,14 22.5,15 1.5,2 0,2 -4,18 -0.5,6 -3.5,16 -2.5,18 -0.5,2 -2,2 -15,7.5 -24,9.5 -42,8.5 -10,-1.5 -36,0 -10,-2 -36,0 -10,-2 -30,-0.5 -6,-1.5 -8,-0.5 -6,-1.5 -8,0 -6,-2 -10,-0.5 -44,-11.5 -7,-4 -16.5,-50 -2.5,-10 0,-2 2.5,-1.5 22,-11.5 8,-4 10,-2.5 69.5,-14 10,-0.5 8,-1.5 22,-0.5 6,-1.5 24,-0.5 8,-1.5z"/>
<path fill="#ff5700" d="M719.5,914l49,-1 10,0.5 12,2.5 18,4.5 12,4.5 20,10.5 13,8.5 2,2 0.5,2 -9,36 -2,12 -1,12 -1.5,2 -6,3 -24,8.5 -22,4.5 -20,2.5 -38,-0.5 -16,-1.5 -30,-0.5 -44,-3 -42,-5 -17.5,-3.5 -19,-4.5 -2.5,-2 -1,-12 -3,-12 -5,-14 -9.5,-22 0.5,-2 2.5,-2 13,-5.5 12,-4 27.5,-6 30,-6 30,-4z"/>
<path fill="#ff4100" d="M714.5,922l48,-2 12,0.5 10,1.5 18,4 14,4.5 14,6.5 12.5,7 2,2 0,2 -11,34 -2.5,14 -0.5,12 -1.5,2 -15,5.5 -20,4.5 -20,2.5 -18,0.5 -26,-1 -88,-5 -43,-5 -12.5,-2 -3.5,-2 0.5,-6 0,-6 -4,-14 -8,-18 -10.5,-16 0,-2 7.5,-3 18,-4.5 39.5,-8 32,-4z"/>
<path fill="#ff2b00" d="M737,928l27.5,-0.5 20,1.5 14,3.5 18,5 11,4.5 7.5,4 0,2 -9.5,16 -5.5,14 -4.5,16 -0.5,14 -2,2 -6.5,2 -16,3 -16,2 -16,0.5 -72,-3.5 -40,-3 -9.5,-1 -4.5,-1 -2.5,-1 -19,-30 -21.5,-30 1,-2 6,-2 30,-6 42,-4.5z"/>
<path fill="#ff1600" d="M726,936l32.5,-2 18,0.5 16,3 23,6.5 5,2 -0.5,2 -8,10 -6.5,12 -12,28 -3,10 -6,2 -24,2 -34.5,-2 -12.5,-2 -31,-19 -44.5,-33 -12,-8 1.5,-2 14,-2z"/>
<path fill="#ff0000" d="M742,942l22.5,-1.5 12,0 15,3.5 4,2 0.5,2 -17.5,32 -3.5,4 -2.5,0.5 -8,-2 -10,-3 -26,-12 -20,-13.5 -7,-6 3,-2z"/>
<path d="M257,634.6 306.9,624.8 343.7,607 387.2,593.6 434,586.4 467.5,573.4 494.3,559.6 524.4,530.8 574.6,494 602,430.5 599.6,363.6 628.1,301.1 646.5,274.3 691.7,271.7 731.8,251.6 778,251.6 817.1,287.7 825.5,297.8 822.1,334.6 817.1,364.7 828.8,428.2 857.2,471.7 907.4,529.2 917.5,567.6 939.2,622.8 994.4,687.5 1118.2,726 1235.3,754.5 1274.6,756.7 1341.5,768.1 1381.6,770.1 1512.1,807.6 1600,852.7 M257,1208.1 296.9,1217.5 407.3,1222.5 507.6,1230.9 557.8,1240.9 641.5,1245.9 700,1244.2 773.6,1248.2 833.8,1239.2 907.4,1220.8 950.9,1202.4 994.4,1191.4 1068,1179 1168.4,1163.9 1281.3,1152.2 1381.6,1140.5 1448.6,1132.2 1515.5,1120.4 1559,1103.7 1600,1082 M257,761 373.8,742.3 474.2,727.3 541.1,708.9 608,698.8 708.4,695.5 773.6,693.2 820.4,693.8 864,707.2 907.4,732.3 934.2,754 994.4,787.5 1084.7,814.3 1168.4,836 1231.1,854.4 1321.4,867.8 1428.5,894.6 1468.6,919.7 1502.1,945.4 1493.7,1010 1448.6,1035.1 1415.1,1043.5 1338.2,1066.9 1231.1,1080.3 1168.4,1090.3 1068,1112.1 991.1,1128.8 961,1140.5 907.4,1163.9 833.8,1182.3 773.6,1191.4 700,1190 641.5,1190.7 561.2,1185.7 440.7,1172.3 390.6,1169 296.9,1163.9 257,1154.6 M257,819.3 373.8,795.9 491,780.8 574.6,765.8 641.5,762.4 700,761.7 773.6,756.7 810.4,760.7 860.6,772.4 907.4,794.2 950.9,824.3 994.4,852.7 1101.5,897.9 1205.2,945.4 1184.7,1010 1101.5,1041.8 1068,1050.2 991.1,1078.6 950.9,1100.4 907.4,1122.1 833.8,1143.9 773.6,1155.6 700,1152.2 641.5,1153.9 554.5,1147.2 474.2,1133.2 390.6,1127.1 307,1120.4 257,1110.4 M257,867.8 357,844.4 474,831 591.3,805.9 675,802.6 700,801.6 780.3,797.5 833.8,809.2 904,836 954.3,877.8 987.7,914.6 1034.6,945.4 1019.5,1010 991,1022 947.6,1053.5 907.4,1080.3 867.3,1100.4 820.4,1117.1 777,1125.5 700,1122.1 641.5,1123.1 561.2,1118.8 474.2,1100.4 407.3,1093.7 340.4,1088.7 257,1070.9 M257,926.3 323.6,897.9 390.6,882.9 474.2,871.1 574.6,844.4 675,839.4 700,837.7 773.6,833.7 833.8,844.4 907.4,876.2 957.6,945.4 950.9,1010 914.1,1042 867.3,1070.3 823.8,1088.7 773.6,1098.7 700,1093.7 641.5,1095.4 561.2,1090.3 474.2,1067 424,1056.9 390.6,1053.5 307,1039 257,1020 M358.8,945.4 440.7,931.4 474.2,921.3 564.5,882.9 641.5,871.1 720.8,868.8 773.6,865.3 820.8,874.2 866.8,894.2 915.5,946 907,1010 862,1042 819,1060.5 774.8,1070.6 720.8,1067 641.5,1064.4 557.8,1053.5 430.7,1013.4 404,1010z M525.3,946 559.5,928.5 641,911.7 720.8,906.4 775,904.6 819,914.6 866.8,944.4 855.3,1010 815,1027 775,1035.3 720.8,1033 641.5,1029.5 595.3,1023 546,1010z" fill="none" stroke="#3c3c3c" stroke-width="2.1" stroke-linejoin="round"/>
</g>
<g stroke="#000" fill="none">
<line x1="256.7" y1="40.7" x2="256.7" y2="1336" stroke-width="5"/>
<line x1="254.2" y1="1333.4" x2="1601.5" y2="1333.4" stroke-width="5.2"/>
<line x1="243" y1="43.2" x2="1601.5" y2="43.2" stroke-width="5"/>
<line x1="1600.6" y1="43" x2="1600.6" y2="1358" stroke-width="1.8"/>
<line x1="256.5" y1="1333" x2="256.5" y2="1357.6" stroke-width="5"/>
<line x1="323.7" y1="1333" x2="323.7" y2="1345.6" stroke-width="5"/>
<line x1="390.9" y1="1333" x2="390.9" y2="1357.6" stroke-width="5"/>
<line x1="458.0" y1="1333" x2="458.0" y2="1345.6" stroke-width="5"/>
<line x1="525.2" y1="1333" x2="525.2" y2="1357.6" stroke-width="5"/>
<line x1="592.4" y1="1333" x2="592.4" y2="1345.6" stroke-width="5"/>
<line x1="659.5" y1="1333" x2="659.5" y2="1357.6" stroke-width="5"/>
<line x1="726.7" y1="1333" x2="726.7" y2="1345.6" stroke-width="5"/>
<line x1="793.9" y1="1333" x2="793.9" y2="1357.6" stroke-width="5"/>
<line x1="861.1" y1="1333" x2="861.1" y2="1345.6" stroke-width="5"/>
<line x1="928.2" y1="1333" x2="928.2" y2="1357.6" stroke-width="5"/>
<line x1="995.4" y1="1333" x2="995.4" y2="1345.6" stroke-width="5"/>
<line x1="1062.6" y1="1333" x2="1062.6" y2="1357.6" stroke-width="5"/>
<line x1="1129.8" y1="1333" x2="1129.8" y2="1345.6" stroke-width="5"/>
<line x1="1197.0" y1="1333" x2="1197.0" y2="1357.6" stroke-width="5"/>
<line x1="1264.1" y1="1333" x2="1264.1" y2="1345.6" stroke-width="5"/>
<line x1="1331.3" y1="1333" x2="1331.3" y2="1357.6" stroke-width="5"/>
<line x1="1398.5" y1="1333" x2="1398.5" y2="1345.6" stroke-width="5"/>
<line x1="1465.7" y1="1333" x2="1465.7" y2="1357.6" stroke-width="5"/>
<line x1="1532.8" y1="1333" x2="1532.8" y2="1345.6" stroke-width="5"/>
<line x1="1599.6" y1="1333" x2="1599.6" y2="1357.6" stroke-width="3"/>
<line x1="243" y1="1333.4" x2="256" y2="1333.4" stroke-width="4.8"/>
<line x1="231" y1="1204.4" x2="256" y2="1204.4" stroke-width="4.8"/>
<line x1="243" y1="1075.4" x2="256" y2="1075.4" stroke-width="4.8"/>
<line x1="231" y1="946.3" x2="256" y2="946.3" stroke-width="4.8"/>
<line x1="243" y1="817.3" x2="256" y2="817.3" stroke-width="4.8"/>
<line x1="231" y1="688.3" x2="256" y2="688.3" stroke-width="4.8"/>
<line x1="243" y1="559.3" x2="256" y2="559.3" stroke-width="4.8"/>
<line x1="231" y1="430.3" x2="256" y2="430.3" stroke-width="4.8"/>
<line x1="243" y1="301.2" x2="256" y2="301.2" stroke-width="4.8"/>
<line x1="231" y1="172.2" x2="256" y2="172.2" stroke-width="4.8"/>
</g>
<text transform="translate(256.5,1417.2) scale(1,1.07)" font-size="54.3" text-anchor="middle">400</text>
<text transform="translate(390.9,1417.2) scale(1,1.07)" font-size="54.3" text-anchor="middle">420</text>
<text transform="translate(525.2,1417.2) scale(1,1.07)" font-size="54.3" text-anchor="middle">440</text>
<text transform="translate(659.5,1417.2) scale(1,1.07)" font-size="54.3" text-anchor="middle">460</text>
<text transform="translate(793.9,1417.2) scale(1,1.07)" font-size="54.3" text-anchor="middle">480</text>
<text transform="translate(928.2,1417.2) scale(1,1.07)" font-size="54.3" text-anchor="middle">500</text>
<text transform="translate(1062.6,1417.2) scale(1,1.07)" font-size="54.3" text-anchor="middle">520</text>
<text transform="translate(1197.0,1417.2) scale(1,1.07)" font-size="54.3" text-anchor="middle">540</text>
<text transform="translate(1331.3,1417.2) scale(1,1.07)" font-size="54.3" text-anchor="middle">560</text>
<text transform="translate(1465.7,1417.2) scale(1,1.07)" font-size="54.3" text-anchor="middle">580</text>
<text transform="translate(1600.0,1417.2) scale(1,1.07)" font-size="54.3" text-anchor="middle">600</text>
<text transform="translate(213,1220.6) scale(1,1.06)" font-size="54.3" text-anchor="end">660</text>
<text transform="translate(213,962.5) scale(1,1.06)" font-size="54.3" text-anchor="end">680</text>
<text transform="translate(213,704.5) scale(1,1.06)" font-size="54.3" text-anchor="end">700</text>
<text transform="translate(213,446.5) scale(1,1.06)" font-size="54.3" text-anchor="end">720</text>
<text transform="translate(213,188.4) scale(1,1.06)" font-size="54.3" text-anchor="end">740</text>
<text transform="translate(928.5,1521.7) scale(1,1.055)" font-size="67" text-anchor="middle">Excitation wavelengths (nm)</text>
<text transform="translate(81,687.5) rotate(-90) scale(0.988,1.055)" font-size="67" text-anchor="middle">Emission wavelengths (nm)</text>
</svg>
</body></html>
